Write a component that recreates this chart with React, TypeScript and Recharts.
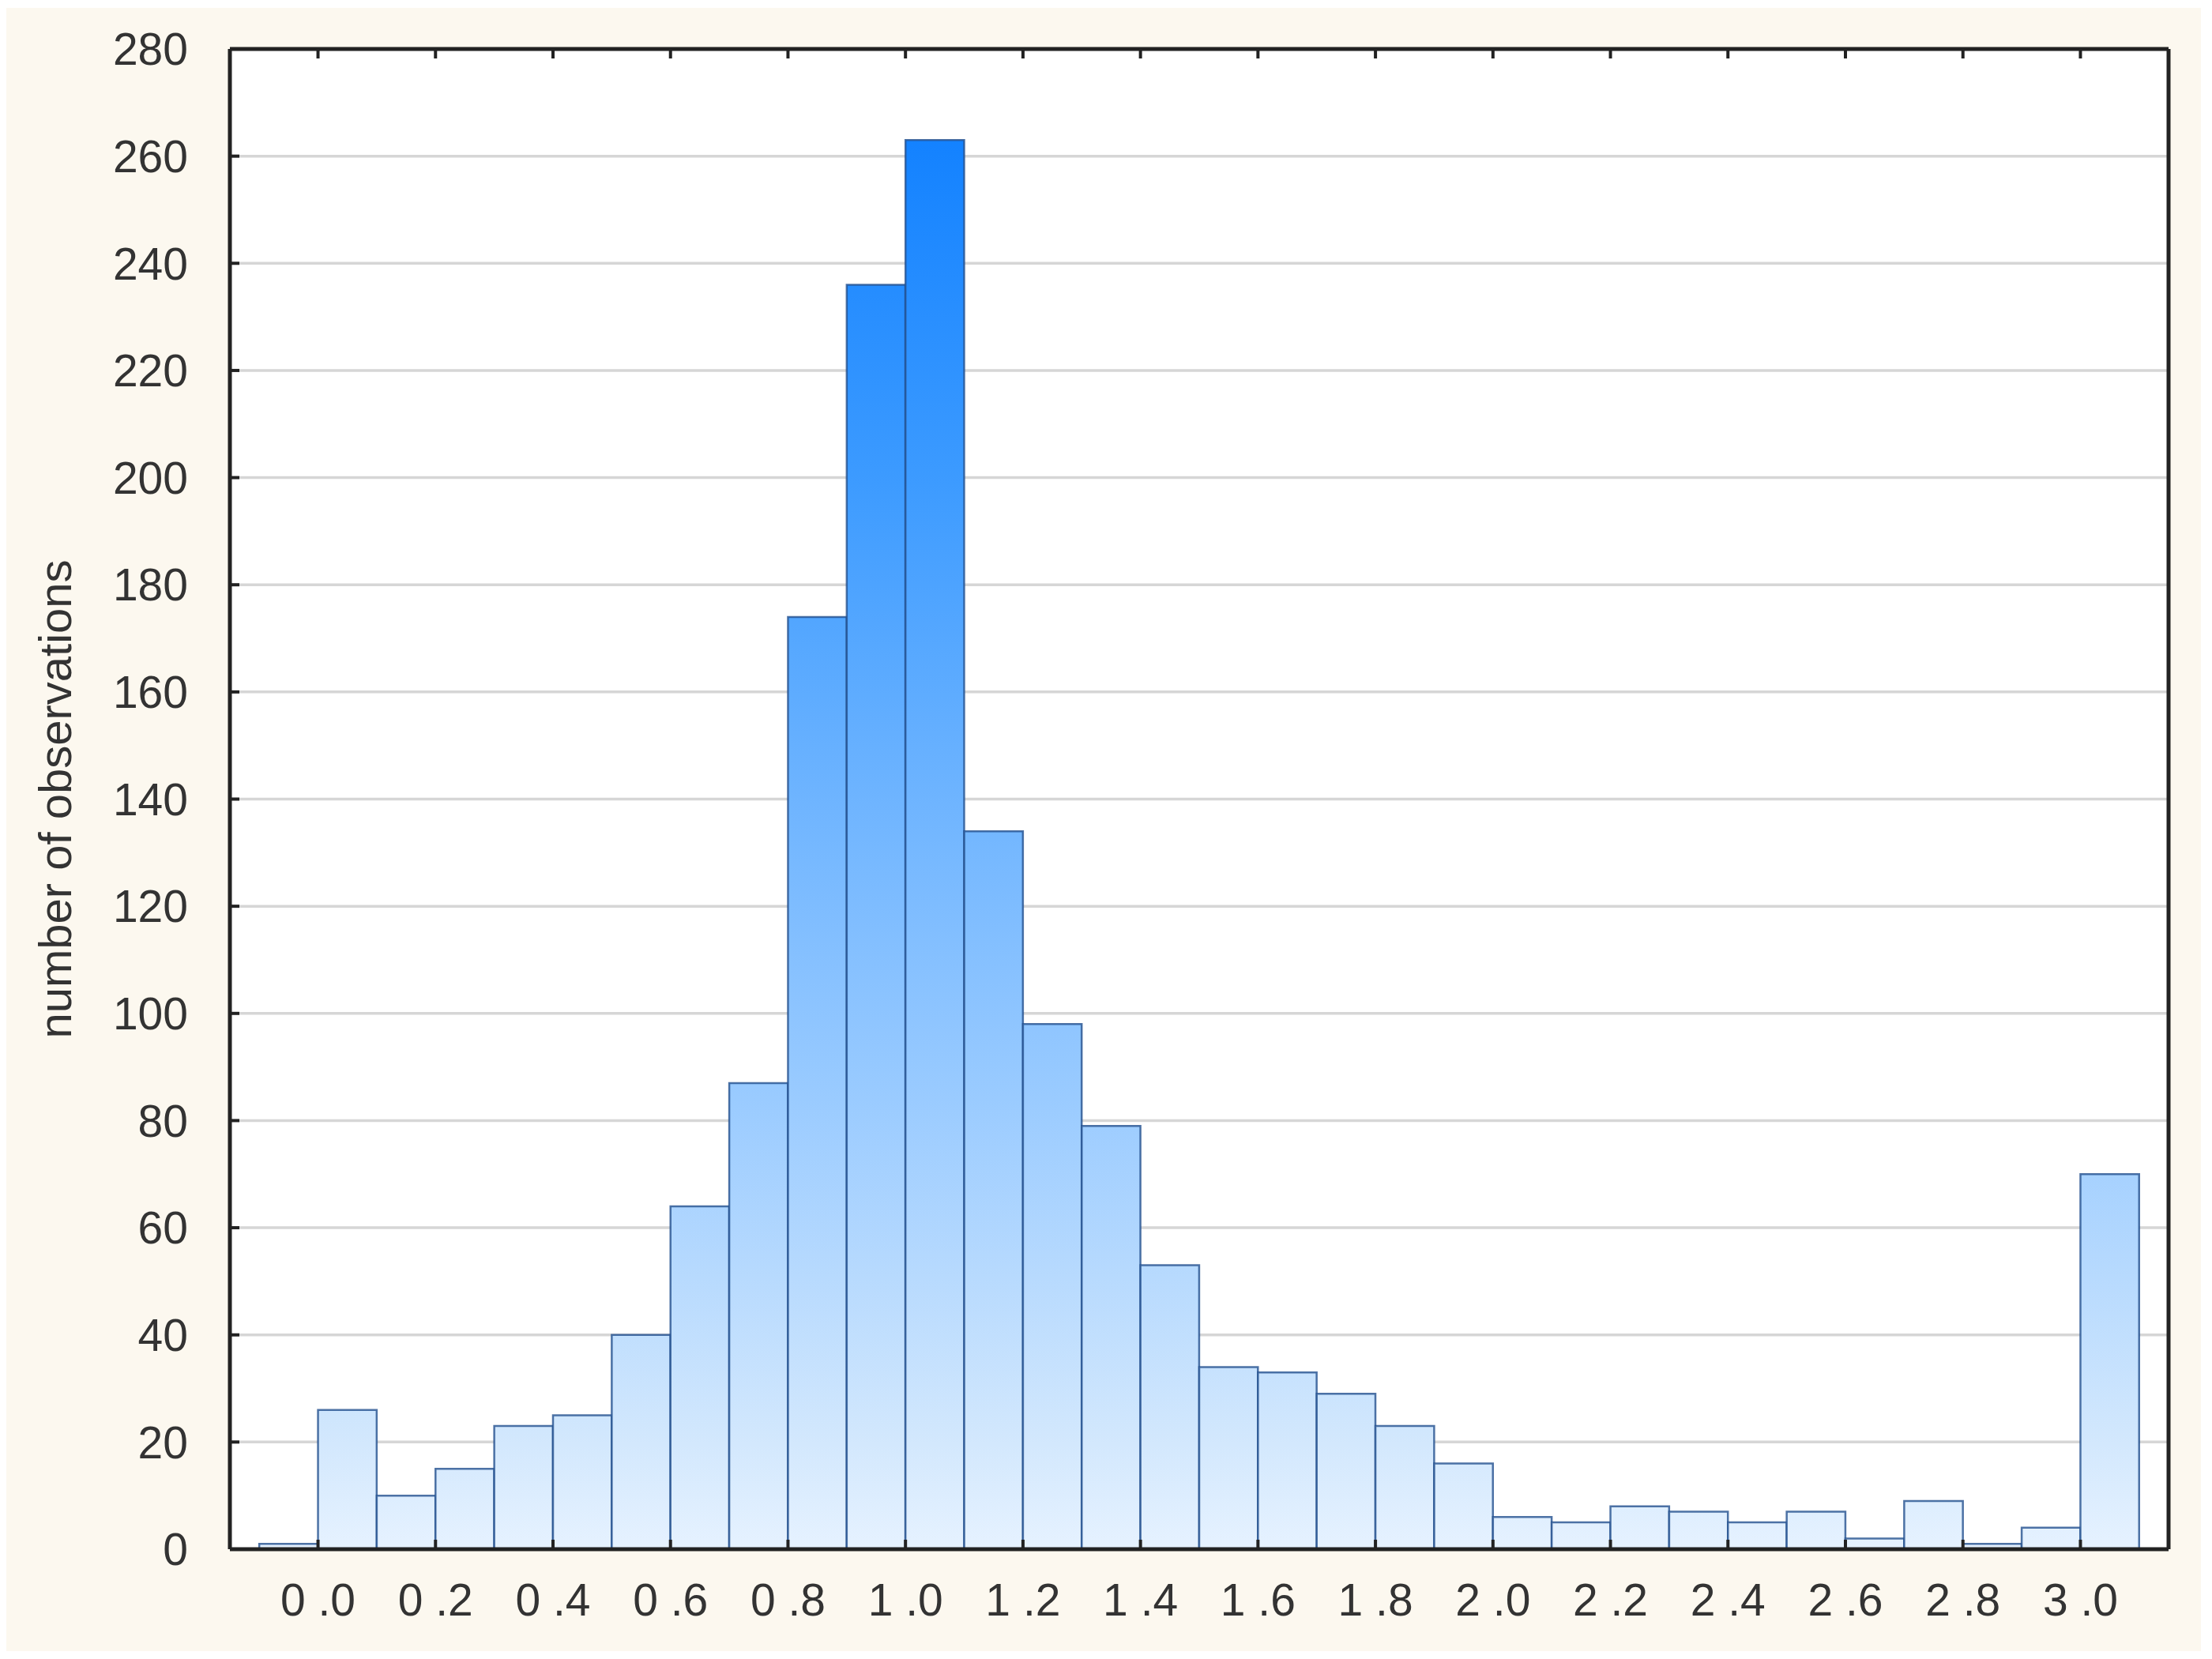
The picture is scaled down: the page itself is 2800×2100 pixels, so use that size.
import React from "react";
import { BarChart, Bar, XAxis, YAxis, CartesianGrid, Label } from "recharts";

const binCenters = [
  -0.05, 0.05, 0.15, 0.25, 0.35, 0.45, 0.55, 0.65, 0.75, 0.85, 0.95, 1.05,
  1.15, 1.25, 1.35, 1.45, 1.55, 1.65, 1.75, 1.85, 1.95, 2.05, 2.15, 2.25,
  2.35, 2.45, 2.55, 2.65, 2.75, 2.85, 2.95, 3.05,
];
const counts = [
  1, 26, 10, 15, 23, 25, 40, 64, 87, 174, 236, 263, 134, 98, 79, 53, 34, 33,
  29, 23, 16, 6, 5, 8, 7, 5, 7, 2, 9, 1, 4, 70,
];
const xTicks = [0, 0.2, 0.4, 0.6, 0.8, 1.0, 1.2, 1.4, 1.6, 1.8, 2.0, 2.2, 2.4, 2.6, 2.8, 3.0];
const xTickLabels = [
  "0 .0", "0 .2", "0 .4", "0 .6", "0 .8", "1 .0", "1 .2", "1 .4",
  "1 .6", "1 .8", "2 .0", "2 .2", "2 .4", "2 .6", "2 .8", "3 .0",
];
const yTicks = [0, 20, 40, 60, 80, 100, 120, 140, 160, 180, 200, 220, 240, 260, 280];
const xDomain = [-0.15, 3.15];
const yDomain = [0, 280];
const yLabel = "number of observations";

const data = binCenters.map((x, i) => ({ x, count: counts[i] }));

const FONT = "'Liberation Sans', Arial, sans-serif";
const frameLine = { stroke: "#222", strokeWidth: 5 };
const tickLineStyle = { stroke: "#222", strokeWidth: 4 };
const tickText = { fill: "#333", fontSize: 57, fontFamily: FONT };

export default function App() {
  return (
    <div style={{ position: "absolute", left: 0, top: 0, width: 2800, height: 2100, background: "#ffffff" }}>
      <div style={{ position: "absolute", left: 8, top: 10, width: 2778, height: 2080, background: "#fcf8ef" }}>
        <BarChart
          width={2778}
          height={2080}
          data={data}
          margin={{ top: 50, right: 39, bottom: 9, left: 0 }}
        >
          <defs>
            <linearGradient id="barGrad" gradientUnits="userSpaceOnUse" x1="0" y1="52" x2="0" y2="1951">
              <stop offset="0%" stopColor="#0a7cff" />
              <stop offset="7%" stopColor="#1583ff" />
              <stop offset="29%" stopColor="#3d9bff" />
              <stop offset="49%" stopColor="#6cb3ff" />
              <stop offset="70%" stopColor="#9acbff" />
              <stop offset="93%" stopColor="#d3e8fd" />
              <stop offset="100%" stopColor="#e6f2ff" />
            </linearGradient>
          </defs>
          <CartesianGrid
            xAxisId="b"
            yAxisId="l"
            vertical={false}
            stroke="#d6d6d6"
            strokeWidth={3.5}
            fill="#ffffff"
          />
          <XAxis
            xAxisId="b"
            type="number"
            dataKey="x"
            domain={xDomain}
            ticks={xTicks}
            interval={0}
            tickFormatter={(v, i) => xTickLabels[i]}
            height={120}
            tickSize={-12}
            tickMargin={56}
            axisLine={frameLine}
            tickLine={tickLineStyle}
            tick={tickText}
          />
          <XAxis
            xAxisId="t"
            orientation="top"
            type="number"
            dataKey="x"
            domain={xDomain}
            ticks={xTicks}
            interval={0}
            tickFormatter={() => ""}
            height={2}
            tickSize={-12}
            axisLine={frameLine}
            tickLine={tickLineStyle}
          />
          <YAxis
            yAxisId="l"
            type="number"
            domain={yDomain}
            ticks={yTicks}
            interval={0}
            width={283}
            tickSize={-12}
            tickMargin={65}
            axisLine={frameLine}
            tickLine={tickLineStyle}
            tick={tickText}
          >
            <Label
              value={yLabel}
              angle={-90}
              position="insideLeft"
              offset={61}
              style={{ textAnchor: "middle", fontSize: 58, fill: "#333", fontFamily: FONT }}
            />
          </YAxis>
          <YAxis
            yAxisId="r"
            orientation="right"
            type="number"
            domain={yDomain}
            ticks={yTicks}
            interval={0}
            width={2}
            tickSize={-12}
            tickFormatter={() => ""}
            axisLine={frameLine}
            tickLine={tickLineStyle}
          />
          <Bar
            xAxisId="b"
            yAxisId="l"
            dataKey="count"
            barSize={74.3}
            fill="url(#barGrad)"
            stroke="#23508f"
            strokeOpacity={0.8}
            strokeWidth={2.5}
            isAnimationActive={false}
          />
        </BarChart>
      </div>
    </div>
  );
}
